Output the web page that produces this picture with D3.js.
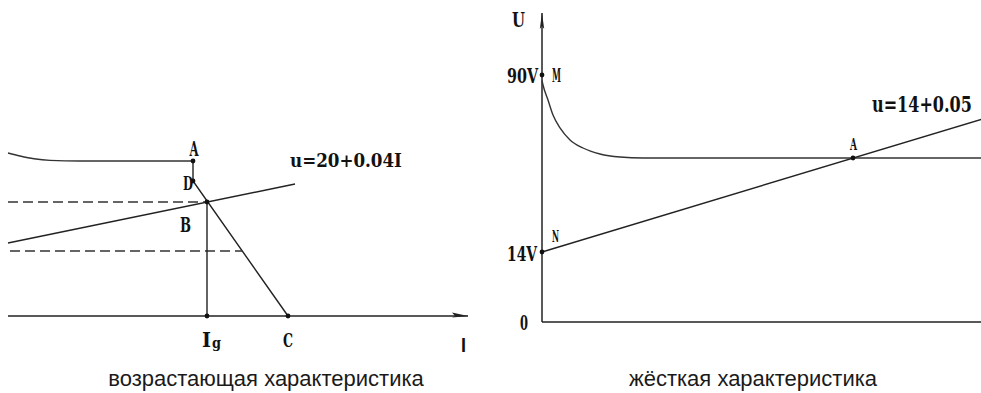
<!DOCTYPE html>
<html>
<head>
<meta charset="utf-8">
<script src="https://cdn.jsdelivr.net/npm/d3@7"></script>
<style>
body { margin: 0; background: #fff; }
.lbl { font-family: "DejaVu Serif Condensed", "DejaVu Serif", serif; font-weight: bold; fill: #111; }
.cap { font-family: "Liberation Sans", Arial, sans-serif; fill: #1a1a1a; }
</style>
</head>
<body>
<script>
// left panel (rising characteristic), units of the drawing
var leftSource = [[0, 40.75], [3, 40], [6.5, 39.3], [10.5, 38.9], [18, 38.75], [46.25, 38.75]]
var leftDrop = [[46.25, 38.75], [46.25, 33.75], [70, 0]]
var leftLoad = [[0, 18.25], [71.75, 33]]
var leftDashUp = [[0, 28.5], [49.75, 28.5]]
var leftDashLow = [[0.5, 16.25], [58.5, 16.25]]
var leftIg = [[49.75, 0], [49.75, 28.5]]
var leftDots = [[46.25, 38.75], [46.25, 33.75], [49.75, 28.5], [49.75, 0], [70, 0]]
var leftAxisEnd = 115
var leftLabels = [
    {t: "A", x: 46.5, y: 40, a: "middle", w: 9, s: 20},
    {t: "D", x: 45, y: 31.5, a: "middle", w: 10, s: 19},
    {t: "B", x: 44.4, y: 21, a: "middle", w: 11, s: 21},
    {t: "C", x: 70, y: -7.75, a: "middle", w: 10, s: 19},
    {t: "u=20+0.04I", x: 70.5, y: 37.25, a: "start", w: 112, s: 19}
]

// right panel (rigid characteristic)
var rightSource = [[0, 80.5], [0.25, 79], [1.5, 74], [2.75, 69], [4.5, 64.7], [7, 60.7], [10.25, 58], [14.5, 56], [19.5, 55], [25.25, 54.67], [110, 54.67]]
var rightLoad = [[0, 23.33], [110, 67.6]]
var rightDots = [[0, 82.33], [0, 23.33], [77.75, 54.67]]
var rightAxisTop = 103
var rightLabels = [
    {t: "U", x: -5.9, y: 98.3, a: "middle", w: 13, s: 20},
    {t: "90V", x: -1, y: 79.7, a: "end", w: 31, s: 20},
    {t: "M", x: 2.5, y: 80, a: "start", w: 9, s: 19},
    {t: "14V", x: -1.25, y: 20.3, a: "end", w: 30, s: 20},
    {t: "N", x: 2.5, y: 26.7, a: "start", w: 7, s: 16},
    {t: "0", x: -4.5, y: -2.7, a: "middle", w: 8, s: 21},
    {t: "A", x: 77.9, y: 57.3, a: "middle", w: 7, s: 16},
    {t: "u=14+0.05", x: 82.5, y: 70, a: "start", w: 100, s: 22}
]

var captions = ["возрастающая характеристика", "жёсткая характеристика"]

var svg = d3.select("body").append("svg").attr("width", 981).attr("height", 393)

// scales
var xL = d3.scaleLinear().domain([0, 115]).range([8, 468])
var yL = d3.scaleLinear().domain([0, 75]).range([316, 16])
var xR = d3.scaleLinear().domain([0, 110]).range([542, 982])
var yR = d3.scaleLinear().domain([0, 100]).range([322, 22])

function drawLine(g, pts, xs, ys, opts)
{
    var line = d3.line().x(function(d) { return xs(d[0]) }).y(function(d) { return ys(d[1]) })
    if(opts && opts.smooth) line.curve(d3.curveMonotoneX)
    var p = g.append("path").attr("d", line(pts)).attr("fill", "none")
        .attr("stroke", (opts && opts.color) || "#222").attr("stroke-width", (opts && opts.w) || 1.4)
    if(opts && opts.dash) p.attr("stroke-dasharray", opts.dash)
    return p
}

// labels are squeezed horizontally to the width
function drawLabels(g, list, xs, ys)
{
    list.forEach(function(l) {
        var t = g.append("text").attr("class", "lbl").attr("x", 0).attr("y", 0)
            .attr("text-anchor", l.a).style("font-size", l.s + "px").text(l.t)
        var k = l.w / t.node().getComputedTextLength()
        t.attr("transform", "translate(" + xs(l.x) + "," + ys(l.y) + ") scale(" + k + ",1)")
    })
}

function drawDots(g, pts, xs, ys)
{
    g.selectAll(null).data(pts).enter().append("circle")
        .attr("cx", function(d) { return xs(d[0]) }).attr("cy", function(d) { return ys(d[1]) })
        .attr("r", 2.4).attr("fill", "#111")
}

// ---- left panel ----
var left = svg.append("g")
drawLine(left, [[0, 0], [leftAxisEnd, 0]], xL, yL, {w: 1.5})
left.append("path").attr("fill", "#222")
    .attr("d", "M" + xL(leftAxisEnd) + "," + yL(0) + "l-16,-3.5l3,3.5l-3,1.5z")
drawLine(left, leftSource, xL, yL, {smooth: true, color: "#333"})
drawLine(left, leftDrop, xL, yL, {color: "#222"})
drawLine(left, leftLoad, xL, yL, {color: "#222"})
drawLine(left, leftDashUp, xL, yL, {dash: "10,5", color: "#333", w: 1.5})
drawLine(left, leftDashLow, xL, yL, {dash: "10,5", color: "#333", w: 1.5})
drawLine(left, leftIg, xL, yL, {color: "#222"})
drawDots(left, leftDots, xL, yL)
drawLabels(left, leftLabels, xL, yL)
// I_g with subscript
var ig = left.append("text").attr("class", "lbl").attr("x", xL(48.5)).attr("y", yL(-7.75)).style("font-size", "20px")
ig.append("tspan").attr("textLength", 9).attr("lengthAdjust", "spacingAndGlyphs").text("I")
ig.append("tspan").attr("dx", 1).attr("dy", 1).style("font-size", "15px").attr("textLength", 9).attr("lengthAdjust", "spacingAndGlyphs").text("g")
left.append("text").attr("x", xL(113.9)).attr("y", yL(-9)).attr("text-anchor", "middle")
    .style("font-family", "Liberation Sans, sans-serif").style("font-weight", "bold").style("font-size", "21px")
    .attr("textLength", 5).attr("lengthAdjust", "spacingAndGlyphs").attr("fill", "#111").text("I")

// ---- right panel ----
var right = svg.append("g")
drawLine(right, [[0, 0], [110, 0]], xR, yR, {w: 1.5})
drawLine(right, [[0, 0], [0, rightAxisTop]], xR, yR, {w: 1.5})
right.append("path").attr("fill", "#222")
    .attr("d", "M" + xR(0) + "," + yR(rightAxisTop) + "l-2.2,16l2.2,-3l2.2,3z")
drawLine(right, rightSource, xR, yR, {smooth: true, color: "#333"})
drawLine(right, rightLoad, xR, yR, {color: "#222"})
drawDots(right, rightDots, xR, yR)
drawLabels(right, rightLabels, xR, yR)

// captions
svg.append("text").attr("class", "cap").attr("x", 266).attr("y", 386).attr("text-anchor", "middle")
    .style("font-size", "22px").text(captions[0])
svg.append("text").attr("class", "cap").attr("x", 753).attr("y", 386).attr("text-anchor", "middle")
    .style("font-size", "22px").text(captions[1])
</script>
</body>
</html>
